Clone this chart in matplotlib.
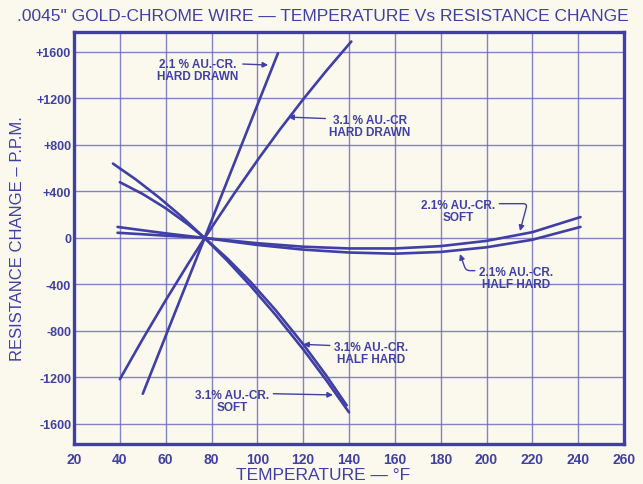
"""Recreate the scanned gold-chrome wire temperature vs resistance change chart."""

import matplotlib
matplotlib.use("Agg")
import matplotlib.pyplot as plt


# Section: Values (temperature in deg F, change in ppm).
temp_21_hard = [50, 60, 70, 77, 90, 100, 109]
res_21_hard = [-1340, -843, -347, 0, 646, 1143, 1590]

temp_31_hard = [40, 50, 60, 70, 77, 90, 101, 110, 120, 130, 141]
res_31_hard = [-1215, -869, -536, -216, 0, 385, 695, 937, 1193, 1436, 1690]

temp_31_soft = [37, 47, 57, 67, 77, 87, 97, 108, 120, 130, 140]
res_31_soft = [640, 503, 350, 183, 0, -198, -411, -663, -958, -1222, -1500]

temp_31_half = [40, 50, 60, 70, 77, 87, 97, 108, 120, 130, 139]
res_31_half = [480, 378, 256, 113, 0, -178, -377, -621, -914, -1181, -1440]

temp_21_flat = [39, 60, 77, 100, 120, 140, 160, 180, 200, 220, 241]
res_21_soft = [95, 40, 0, -45, -75, -90, -90, -70, -25, 50, 180]
res_21_half = [45, 20, 0, -60, -100, -125, -135, -120, -80, -15, 95]

x_ticks = [20, 40, 60, 80, 100, 120, 140, 160, 180, 200, 220, 240, 260]
y_ticks = [1600, 1200, 800, 400, 0, -400, -800, -1200, -1600]
y_tick_labels = ["+1600", "+1200", "+800", "+400", "0", "-400", "-800", "-1200", "-1600"]


# Section: Colours and fonts that imitate the blue ink on cream paper.
INK = "#3f3fa6"
GRID = "#6666bb"
PAPER = "#fbf9ee"
plt.rcParams["font.family"] = ["Liberation Sans", "DejaVu Sans"]


def main() -> None:
    fig = plt.figure(figsize=(6.43, 4.85), dpi=100, facecolor=PAPER)
    ax = fig.add_axes([0.1151, 0.0825, 0.8554, 0.8495])
    ax.set_facecolor(PAPER)

    ax.set_xlim(20, 260)
    ax.set_ylim(-1772, 1772)
    for t in x_ticks[1:-1]:
        ax.axvline(t, color=GRID, linewidth=1.0, alpha=0.8, zorder=1)
    for r in y_ticks:
        ax.axhline(r, color=GRID, linewidth=1.0, alpha=0.8, zorder=1)

    line_kw = dict(color=INK, linewidth=1.9, solid_capstyle="round", solid_joinstyle="round", zorder=3)
    ax.plot(temp_21_hard, res_21_hard, **line_kw)
    ax.plot(temp_31_hard, res_31_hard, **line_kw)
    ax.plot(temp_31_soft, res_31_soft, **line_kw)
    ax.plot(temp_31_half, res_31_half, **line_kw)
    ax.plot(temp_21_flat, res_21_soft, **line_kw)
    ax.plot(temp_21_flat, res_21_half, **line_kw)

    ax.set_xticks(x_ticks)
    ax.set_xticklabels([str(t) for t in x_ticks], fontsize=10, fontweight="bold", color=INK)
    ax.set_yticks(y_ticks)
    ax.set_yticklabels(y_tick_labels, fontsize=9, fontweight="bold", color=INK)
    ax.tick_params(axis="y", length=0, pad=2)
    ax.tick_params(axis="x", length=0, pad=6)
    for spine in ax.spines.values():
        spine.set_color(INK)
        spine.set_linewidth(2.4)

    ax.set_xlabel("TEMPERATURE — °F", fontsize=12.5, color=INK)
    ax.xaxis.set_label_coords(0.453, -0.055)
    ax.set_ylabel("RESISTANCE CHANGE – P.P.M.", fontsize=12, color=INK, labelpad=8)
    fig.text(0.502, 0.965, '.0045" GOLD-CHROME WIRE — TEMPERATURE Vs RESISTANCE CHANGE',
             ha="center", va="center", fontsize=12.5, color=INK)

    # Section: Curve labels with leader arrows.
    note_kw = dict(fontsize=8.5, color=INK, fontweight="bold", ha="center", va="center", linespacing=1.05)
    arrow = dict(arrowstyle="-|>", color=INK, linewidth=1.0, mutation_scale=8, shrinkA=1, shrinkB=0)
    ax.annotate("2.1 % AU.-CR.\nHARD DRAWN", xy=(104.7, 1488), xytext=(74.1, 1445),
                arrowprops=dict(arrow, relpos=(1.0, 0.75)), **note_kw)
    ax.annotate("3.1 % AU.-CR\nHARD DRAWN", xy=(113.5, 1040), xytext=(149.2, 963),
                arrowprops=dict(arrow, relpos=(0.0, 0.8)), **note_kw)
    ax.annotate("2.1% AU.-CR.\nSOFT", xy=(214.6, 60), xytext=(187.6, 232),
                arrowprops=dict(arrow, relpos=(1.0, 0.8),
                                connectionstyle="angle,angleA=0,angleB=75,rad=4"), **note_kw)
    ax.annotate("2.1% AU.-CR.\nHALF HARD", xy=(188.4, -138), xytext=(212.9, -344),
                arrowprops=dict(arrow, relpos=(0.0, 0.8),
                                connectionstyle="angle,angleA=180,angleB=-70,rad=4"), **note_kw)
    ax.annotate("3.1% AU.-CR.\nHALF HARD", xy=(120, -915), xytext=(149.6, -989),
                arrowprops=dict(arrow, relpos=(0.0, 0.8)), **note_kw)
    ax.annotate("3.1% AU.-CR.\nSOFT", xy=(133, -1350), xytext=(89, -1402),
                arrowprops=dict(arrow, relpos=(1.0, 0.8)), **note_kw)

    fig.savefig("out.png", dpi=100, facecolor=PAPER)
    plt.close(fig)


if __name__ == "__main__":
    main()
